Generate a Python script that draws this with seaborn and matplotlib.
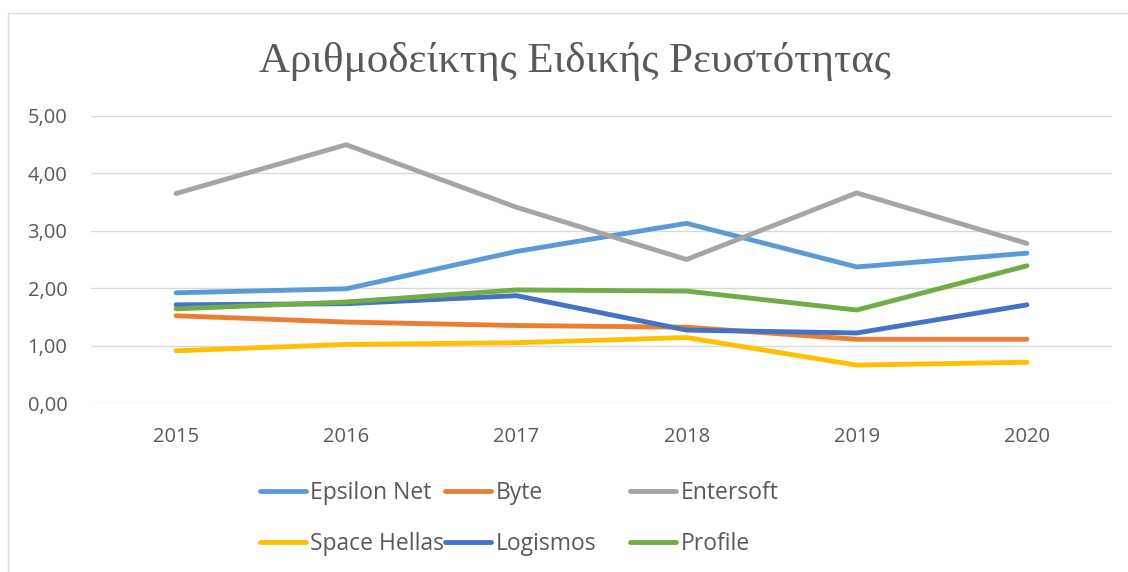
import matplotlib
matplotlib.use('Agg')
import matplotlib.pyplot as plt
import matplotlib.patches as patches
from matplotlib.ticker import FuncFormatter
import pandas as pd
import seaborn as sns

years = [2015, 2016, 2017, 2018, 2019, 2020]
companies = ['Epsilon Net', 'Byte', 'Entersoft', 'Space Hellas', 'Logismos', 'Profile']
epsilon_net = [1.92, 1.99, 2.64, 3.13, 2.37, 2.61]
byte = [1.52, 1.41, 1.35, 1.32, 1.11, 1.11]
entersoft = [3.65, 4.50, 3.41, 2.50, 3.66, 2.78]
space_hellas = [0.91, 1.02, 1.05, 1.14, 0.66, 0.71]
logismos = [1.71, 1.73, 1.87, 1.27, 1.22, 1.71]
profile = [1.64, 1.76, 1.97, 1.95, 1.62, 2.39]
colors = ['#5B9BD5', '#ED7D31', '#A5A5A5', '#FFC000', '#4472C4', '#70AD47']
title = 'Αριθμοδείκτης Ειδικής Ρευστότητας'

series = [epsilon_net, byte, entersoft, space_hellas, logismos, profile]
rows = []
for name, vals in zip(companies, series):
    for yr, v in zip(years, vals):
        rows.append({'year': yr, 'company': name, 'value': v})
df = pd.DataFrame(rows)

sns.set_theme(style='white')
plt.rcParams['font.family'] = ['Open Sans', 'DejaVu Sans']

fig = plt.figure(figsize=(11.28, 5.72), dpi=100)
ax = fig.add_axes([91/1128, 1-403/572, (1112-91)/1128, (403-116)/572])

sns.lineplot(data=df, x='year', y='value', hue='company', hue_order=companies,
             palette=colors, linewidth=3.5, ax=ax, legend=False,
             solid_capstyle='round')

ax.set_xlim(2014.5, 2020.5)
ax.set_ylim(0, 5)
ax.set_xticks(years)
ax.set_xticklabels([str(y) for y in years])
ax.set_yticks([0, 1, 2, 3, 4, 5])
ax.yaxis.set_major_formatter(FuncFormatter(lambda v, p: f'{v:.2f}'.replace('.', ',')))
ax.grid(axis='y', color='#D9D9D9', linewidth=1.0)
ax.set_axisbelow(True)
for s in ax.spines.values():
    s.set_visible(False)
ax.tick_params(axis='both', length=0, labelsize=14.5, colors='#595959')
ax.tick_params(axis='y', pad=17)
ax.tick_params(axis='x', pad=17)
ax.set_xlabel('')
ax.set_ylabel('')

fig.text(575/1128, 1-62/572, title, ha='center', va='center',
         family=['Liberation Serif', 'DejaVu Serif'], fontsize=31, color='#595959')

# chart border
fig.patches.append(patches.Rectangle((8/1128, -0.1), 1.2, 1-13/572+0.1,
                                     transform=fig.transFigure, fill=False,
                                     edgecolor='#D9D9D9', linewidth=1.0))

handles = ax.get_lines()[:6]
col_x = [260, 445, 630]
for i in range(3):
    leg = fig.legend(handles=[handles[i], handles[i+3]], labels=[companies[i], companies[i+3]],
                     loc='center left', bbox_to_anchor=(col_x[i]/1128, 1-518.5/572),
                     frameon=False, fontsize=16.5, handlelength=2.0, handletextpad=0.2,
                     borderpad=0, borderaxespad=0, labelspacing=1.2)
    for t in leg.get_texts():
        t.set_color('#595959')

fig.savefig('out.png', dpi=100)
